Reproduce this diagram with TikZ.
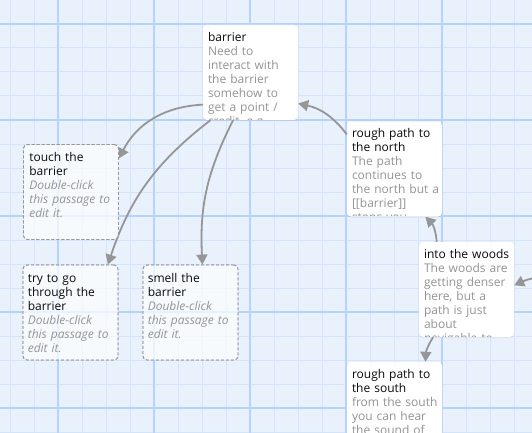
\documentclass[tikz,border=0pt]{standalone}
\usepackage{fontspec}
\setmainfont{Open Sans}
\usetikzlibrary{arrows.meta,shadows}

\definecolor{gridbg}{RGB}{233,241,252}
\definecolor{minorblue}{RGB}{212,228,250}
\definecolor{majorblue}{RGB}{184,211,249}
\definecolor{linkgrey}{RGB}{150,150,150}
\definecolor{excerptgrey}{RGB}{148,148,148}
\definecolor{titleblack}{RGB}{10,10,10}

\tikzset{
  passage/.style={rectangle, rounded corners=4pt, minimum width=95pt, minimum height=95pt,
    inner sep=0pt, fill=white, drop shadow={opacity=0.12, shadow xshift=0pt, shadow yshift=-1pt}},
  emptypassage/.style={rectangle, rounded corners=4pt, minimum width=95pt, minimum height=95pt,
    inner sep=0pt, draw=linkgrey, line width=0.8pt, dash pattern=on 3pt off 2pt,
    fill=white, fill opacity=0.45},
  ptext/.style={anchor=north west, inner sep=0pt, text width=120pt, align=left,
    font=\fontsize{12}{14}\selectfont, text=excerptgrey},
  link/.style={draw=linkgrey, line width=1.8pt, -{Triangle[length=10pt,width=11pt]}},
}

\newcommand{\ptitle}[1]{{\color{titleblack}\strut #1}}
\newcommand{\pempty}{\itshape Double-click\\this passage to\\edit it.}

\begin{document}
\begin{tikzpicture}[x=1pt,y=-1pt]
\useasboundingbox (0,0) rectangle (532,433);
\clip (0,0) rectangle (532,433);

% story map grid
\fill[gridbg] (0,0) rectangle (532,433);
\foreach \x in {10,34,...,538}
  \draw[minorblue, line width=1pt] (\x,0) -- (\x,433);
\foreach \y in {0,24,...,440}
  \draw[minorblue, line width=1pt] (0,\y) -- (532,\y);
\foreach \x in {58,154,...,538}
  \draw[majorblue, line width=1.2pt] (\x,0) -- (\x,433);
\foreach \y in {24,120,...,440}
  \draw[majorblue, line width=1.2pt] (0,\y) -- (532,\y);

% passages
\node[passage] (barrier) at (250.5,72.5) {};
\node[passage] (north) at (394.5,169) {};
\node[passage] (woods) at (466.5,289.5) {};
\node[passage] (south) at (394.5,409.5) {};
\node[emptypassage] (touch) at (71,192) {};
\node[emptypassage] (try) at (70.5,312.5) {};
\node[emptypassage] (smell) at (190.5,312.5) {};
\coordinate (offright) at (545,276);

% links
\draw[link] (barrier.214) to[bend right=30] (touch.35);
\draw[link] (barrier.230) to[bend right=17] (try.52);
\draw[link] (barrier.250) to[bend right=15] (smell.76);
\draw[link] (north.144) to[bend right=20] (barrier.-33);
\draw[link] (woods.122) to[bend right=20] (north.-57);
\draw[link] (offright) to[bend right=8] (woods.5);
\draw[link] (woods.235) to[bend right=15] (south.57);

% redraw empty passages over the links
\node[emptypassage] at (touch) {};
\node[emptypassage] at (try) {};
\node[emptypassage] at (smell) {};

% passage texts
\begin{scope}
  \clip (barrier.north west) rectangle ([yshift=1pt]barrier.south east);
  \node[ptext] (barriertext) at ([xshift=5pt,yshift=-6.5pt]barrier.north west)
    {\ptitle{barrier}\\Need to\\interact with\\the barrier\\somehow to\\get a point /\\credit, e.g.};
\end{scope}
\begin{scope}
  \clip (north.north west) rectangle ([yshift=1pt]north.south east);
  \node[ptext] (northtext) at ([xshift=5pt,yshift=-6.5pt]north.north west)
    {\ptitle{rough path to}\\\ptitle{the north}\\The path\\continues to\\the north but a\\{[[barrier]]}\\stops you};
\end{scope}
\begin{scope}
  \clip (woods.north west) rectangle ([yshift=1pt]woods.south east);
  \node[ptext] (woodstext) at ([xshift=5pt,yshift=-6.5pt]woods.north west)
    {\ptitle{into the woods}\\The woods are\\getting denser\\here, but a\\path is just\\about\\navigable to};
\end{scope}
\begin{scope}
  \clip (south.north west) rectangle ([yshift=1pt]south.south east);
  \node[ptext] (southtext) at ([xshift=5pt,yshift=-6.5pt]south.north west)
    {\ptitle{rough path to}\\\ptitle{the south}\\from the south\\you can hear\\the sound of};
\end{scope}
\node[ptext] (touchtext) at ([xshift=6pt,yshift=-7.5pt]touch.north west)
  {\ptitle{touch the}\\\ptitle{barrier}\\\pempty};
\node[ptext] (trytext) at ([xshift=5pt,yshift=-7.5pt]try.north west)
  {\ptitle{try to go}\\\ptitle{through the}\\\ptitle{barrier}\\\pempty};
\node[ptext] (smelltext) at ([xshift=5pt,yshift=-7.5pt]smell.north west)
  {\ptitle{smell the}\\\ptitle{barrier}\\\pempty};
\end{tikzpicture}
\end{document}
